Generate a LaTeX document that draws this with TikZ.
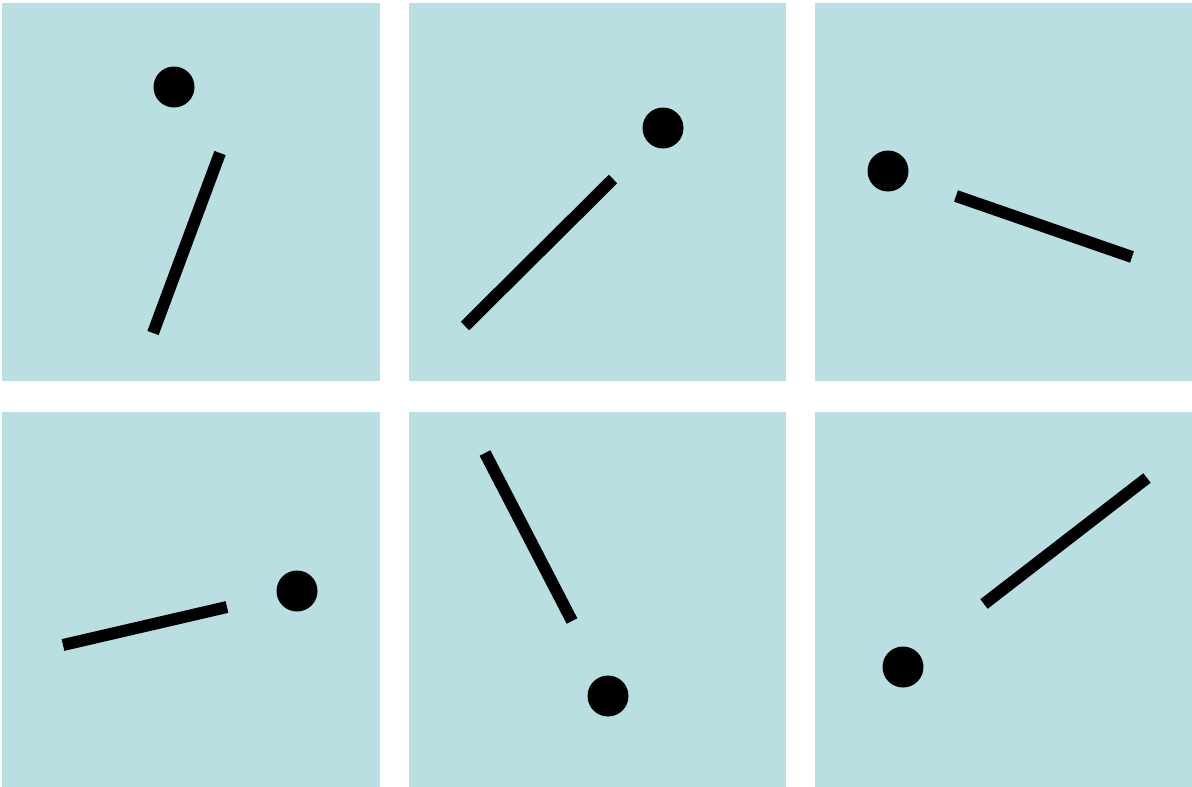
\documentclass[tikz,border=0pt]{standalone}
\definecolor{panelblue}{RGB}{186,223,226}
\tikzset{
  panel/.style={fill=panelblue, draw=none},
  stick/.style={line width=12pt, line cap=butt, black},
  ball/.style={circle, fill=black, inner sep=0pt, minimum size=41pt}
}
\begin{document}
\begin{tikzpicture}[x=1pt,y=-1pt]
\useasboundingbox (0,0) rectangle (1192,787);
\fill[white] (0,0) rectangle (1192,787);
% panels
\fill[panel] (2,3) rectangle (380,381);
\fill[panel] (409,3) rectangle (786,381);
\fill[panel] (815,3) rectangle (1192,381);
\fill[panel] (2,412) rectangle (380,787);
\fill[panel] (409,412) rectangle (786,787);
\fill[panel] (815,412) rectangle (1192,787);
% panel 1
\node[ball] (b1) at (174,87) {};
\draw[stick] (220,153) -- (153,333);
% panel 2
\node[ball] (b2) at (663,128) {};
\draw[stick] (613,179) -- (465,326);
% panel 3
\node[ball] (b3) at (888,171) {};
\draw[stick] (956,196) -- (1132,257);
% panel 4
\node[ball] (b4) at (297,591) {};
\draw[stick] (63,645) -- (227,607);
% panel 5
\node[ball] (b5) at (608,696) {};
\draw[stick] (485,453) -- (572,621);
% panel 6
\node[ball] (b6) at (903,667) {};
\draw[stick] (984,604) -- (1147,478);
\end{tikzpicture}
\end{document}
